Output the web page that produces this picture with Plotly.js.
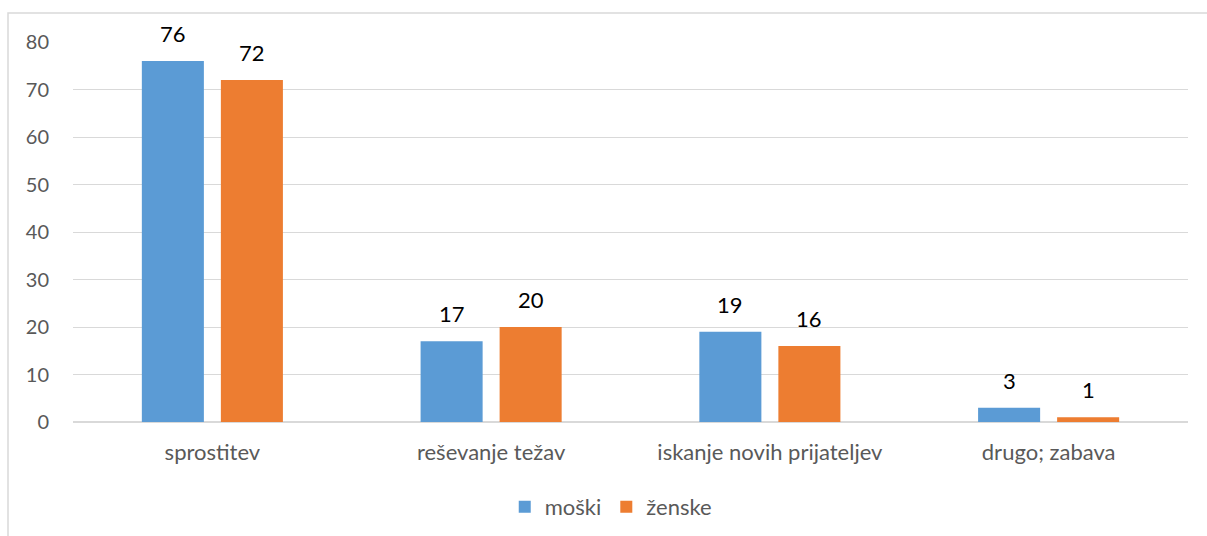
<!DOCTYPE html>
<html><head><meta charset="utf-8">
<script src="https://cdn.plot.ly/plotly-3.0.1.min.js"></script>
<style>html,body{margin:0;padding:0;background:#fff;}#chart{width:1207px;height:536px;}</style>
</head><body><div id="chart"></div>
<script>
const categories = ["sprostitev", "reševanje težav", "iskanje novih prijateljev", "drugo; zabava"];
const moski = [76, 17, 19, 3];
const zenske = [72, 20, 16, 1];
const seriesNames = ["moški", "ženske"];
const yTicks = [0, 10, 20, 30, 40, 50, 60, 70, 80];

const FONT = "Lato, 'Open Sans', sans-serif";
const traces = [
  {type: "bar", name: seriesNames[0], x: categories, y: moski, marker: {color: "#5B9BD5"}, hoverinfo: "none"},
  {type: "bar", name: seriesNames[1], x: categories, y: zenske, marker: {color: "#ED7D31"}, hoverinfo: "none"}
];
const annotations = [];
[moski, zenske].forEach((vals, si) => {
  vals.forEach((v, i) => {
    annotations.push({x: categories[i], y: v, xref: "x", yref: "y", text: String(v), showarrow: false,
      xshift: si === 0 ? -39.5 : 39.5, yanchor: "bottom", yshift: 12,
      font: {family: FONT, size: 22, color: "#000"}});
  });
});
const layout = {
  width: 1207, height: 536,
  margin: {l: 73, r: 19, t: 42, b: 114},
  paper_bgcolor: "#fff", plot_bgcolor: "#fff",
  barmode: "group", bargap: 0.433, bargroupgap: 0.215,
  font: {family: FONT, color: "#595959", size: 20},
  xaxis: {type: "category", showgrid: false, showline: false, ticks: "", tickfont: {size: 22, color: "#595959"}, ticklabelstandoff: 15, fixedrange: true},
  yaxis: {range: [0, 80], tickvals: yTicks, showgrid: true, gridcolor: "#d9d9d9", gridwidth: 1, zeroline: true, zerolinecolor: "#d9d9d9", zerolinewidth: 1.5, ticks: "", showline: false, tickfont: {size: 20, color: "#595959"}, ticklabelstandoff: 23, fixedrange: true},
  showlegend: true,
  legend: {orientation: "h", xref: "container", yref: "container", x: 0.506, xanchor: "center", y: 0.054, yanchor: "middle", font: {size: 22, color: "#595959"}, itemwidth: 30, traceorder: "normal"},
  annotations: annotations,
  shapes: [{type: "rect", xref: "paper", yref: "paper", x0: -0.0583, x1: 1.2, y0: -0.6, y1: 1.0763, line: {color: "#d9d9d9", width: 1.5}, fillcolor: "rgba(0,0,0,0)", layer: "below"}]
};
Plotly.newPlot("chart", traces, layout, {displayModeBar: false, staticPlot: true});
</script></body></html>
